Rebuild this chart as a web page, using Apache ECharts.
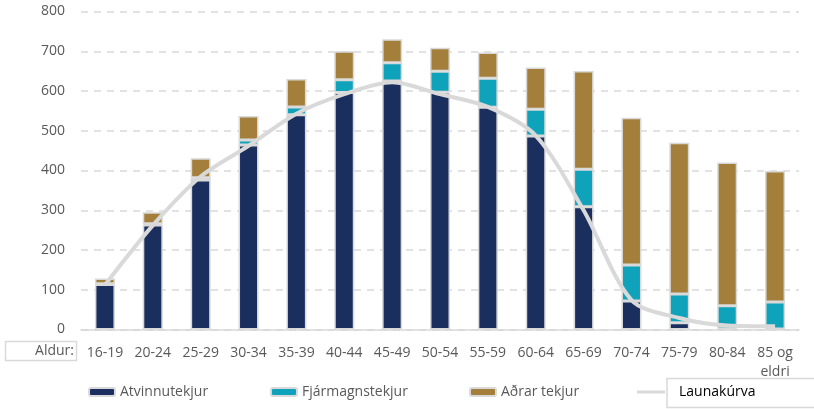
<!DOCTYPE html>
<html>
<head>
<meta charset="utf-8">
<script src="https://cdn.jsdelivr.net/npm/echarts@6/dist/echarts.min.js"></script>
<style>
html, body { margin: 0; padding: 0; background: #fff; }
#chart { width: 814px; height: 409px; }
</style>
</head>
<body>
<div id="chart"></div>
<script>
// aldurshópar
var categories = ['16-19', '20-24', '25-29', '30-34', '35-39', '40-44', '45-49', '50-54',
	'55-59', '60-64', '65-69', '70-74', '75-79', '80-84', '85 og\neldri'];
var atvinnutekjur = [113, 263, 376, 464, 540, 596, 625, 597, 559, 487, 309, 72, 17, 2, 1];
var fjarmagnstekjur = [2, 3, 6, 13, 20, 32, 46, 53, 73, 67, 94, 90, 72, 58, 68];
var adrarTekjur = [13, 29, 49, 60, 70, 72, 59, 59, 65, 105, 247, 371, 381, 360, 330];
var launakurva = [112, 262, 385, 462, 543, 592, 622, 592, 560, 488, 300, 74, 29, 10, 8];
var yTicks = [0, 100, 200, 300, 400, 500, 600, 700, 800];

var FONT = 'Open Sans';
var GREY = '#d9d9d9';
var chart = echarts.init(document.getElementById('chart'));

function legendAt(name, left, extra) {
	var l = {
		data: [name],
		left: left,
		top: 385,
		padding: 0,
		itemWidth: 26,
		itemHeight: 8,
		textStyle: { fontFamily: FONT, fontSize: 14, color: '#595959' }
	};
	for (var k in extra) l[k] = extra[k];
	return l;
}

function barSeries(name, data, color) {
	return {
		name: name,
		type: 'bar',
		stack: 'tekjur',
		barWidth: 20,
		data: data,
		itemStyle: { color: color, borderColor: GREY, borderWidth: 1.5 }
	};
}

var option = {
	animation: false,
	grid: { left: 81, right: 15, top: 11.5, bottom: 79.5 },
	xAxis: {
		type: 'category',
		data: categories,
		axisTick: { show: false },
		axisLine: { lineStyle: { color: GREY, width: 1.5 } },
		axisLabel: { fontFamily: FONT, fontSize: 14, color: '#595959', margin: 14, lineHeight: 19, interval: 0 }
	},
	yAxis: {
		type: 'value',
		min: yTicks[0],
		max: yTicks[yTicks.length - 1],
		interval: 100,
		axisLine: { show: false },
		axisTick: { show: false },
		axisLabel: { fontFamily: FONT, fontSize: 14, color: '#595959', margin: 16 },
		splitLine: { lineStyle: { color: GREY, width: 1.5, type: [7, 6] } }
	},
	legend: [
		legendAt('Atvinnutekjur', 88),
		legendAt('Fjármagnstekjur', 270),
		legendAt('Aðrar tekjur', 469),
		legendAt({ name: 'Launakúrva', icon: 'rect' }, 637, {
			itemWidth: 28,
			itemHeight: 3,
			itemStyle: { borderWidth: 0 },
			textStyle: { fontFamily: FONT, fontSize: 14, color: '#000', padding: [0, 0, 0, 9] }
		})
	],
	graphic: [
		{ type: 'rect', shape: { x: 5.5, y: 341.5, width: 71, height: 19 },
			style: { fill: '#fff', stroke: GREY, lineWidth: 1.5 } },
		{ type: 'text', x: 74, y: 351.5,
			style: { text: 'Aldur:', fontFamily: FONT, fontSize: 14, fill: '#595959', align: 'right', verticalAlign: 'middle' } },
		{ type: 'rect', shape: { x: 667, y: 378.5, width: 150, height: 29 },
			style: { fill: 'none', stroke: GREY, lineWidth: 1.5 }, z: 0 }
	],
	series: [
		barSeries('Atvinnutekjur', atvinnutekjur, '#1b2f5f'),
		barSeries('Fjármagnstekjur', fjarmagnstekjur, '#0fa2bb'),
		barSeries('Aðrar tekjur', adrarTekjur, '#a47f3c'),
		{
			name: 'Launakúrva',
			type: 'line',
			data: launakurva,
			smooth: 0.3,
			symbol: 'none',
			z: 5,
			lineStyle: { color: GREY, width: 4 },
			itemStyle: { color: GREY }
		}
	]
};
chart.setOption(option);
</script>
</body>
</html>
